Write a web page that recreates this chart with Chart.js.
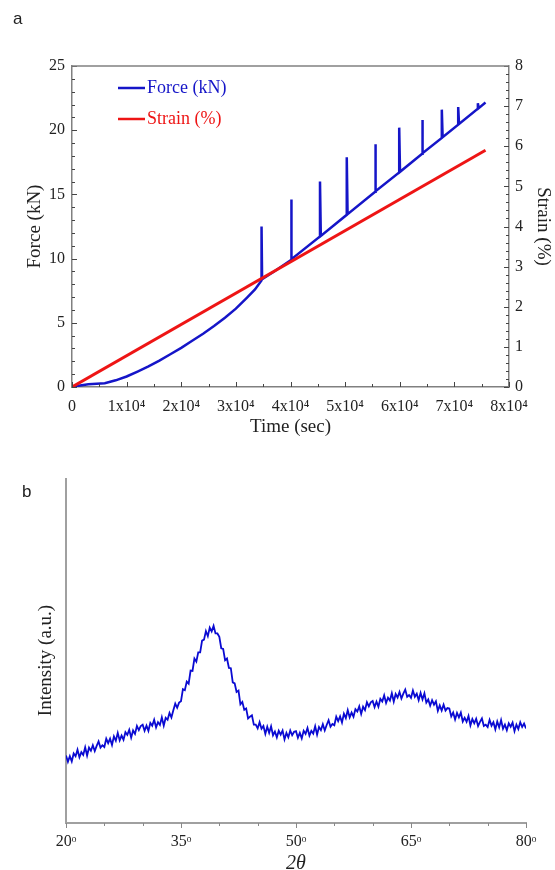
<!DOCTYPE html>
<html>
<head>
<meta charset="utf-8">
<script src="https://cdn.jsdelivr.net/npm/chart.js@4.4.1/dist/chart.umd.min.js"></script>
<style>
  body { margin: 0; background: #fff; }
  #wrap { position: relative; width: 555px; height: 870px; }
  canvas { position: absolute; left: 0; }
  .tag { position: absolute; font: 17px "Liberation Sans", Arial, sans-serif; color: #222; }
</style>
</head>
<body>
<div id="wrap">
  <canvas id="forceChart" width="555" height="450" style="top:0"></canvas>
  <canvas id="xrdChart" width="555" height="420" style="top:450px"></canvas>
  <div class="tag" style="left:13px; top:9px">a</div>
  <div class="tag" style="left:22px; top:482px">b</div>
</div>
<script>
// panel a: tensile test
var forceTime = [0, 1500, 3000, 4500, 6000, 8000, 10000, 12000, 14000, 16000, 18000, 20000,
  22000, 24000, 26000, 28000, 30000, 32000, 33500, 34700, 34700, 34800, 37000,
  40100, 40100, 40250, 45400, 45400, 45550, 50300, 50300, 50450, 55500, 55500, 55650,
  59900, 59900, 60050, 64100, 64100, 64250, 67700, 67700, 67850, 70700, 70700, 70850,
  74300, 74300, 74450, 75700];
var forceKN = [0, 0.12, 0.22, 0.26, 0.3, 0.52, 0.82, 1.2, 1.6, 2.05, 2.55, 3.05,
  3.6, 4.15, 4.75, 5.4, 6.1, 6.95, 7.6, 8.3, 12.5, 8.4, 9.0,
  9.9, 14.6, 9.95, 11.72, 16.0, 11.77, 13.41, 17.9, 13.46, 15.2, 18.9, 15.25,
  16.71, 20.2, 16.76, 18.16, 20.8, 18.21, 19.4, 21.6, 19.45, 20.43, 21.8, 20.48,
  21.67, 22.1, 21.72, 22.15];
var strainTime = [0, 75700];
var strainPct = [0, 5.9];

// panel b: XRD scan, 20 to 80 deg, step 0.25
var scanStart = 20, scanStep = 0.25;
var intensity = [
  19.6, 17.8, 19.4, 17.9, 20.2, 19.4, 21.3, 19.1, 20.6, 19.8, 22.0, 19.6, 21.9, 21.0, 22.6, 20.9, 22.4, 23.7, 21.9, 22.6,
  22.1, 24.5, 23.2, 24.5, 22.7, 25.2, 23.9, 26.2, 24.0, 25.4, 24.2, 26.4, 25.6, 27.1, 24.8, 26.9, 25.9, 28.2, 27.0, 28.2,
  28.6, 26.8, 28.3, 26.8, 29.1, 28.3, 30.0, 27.8, 29.3, 28.5, 30.7, 28.3, 30.6, 30.0, 32.0, 30.7, 32.8, 34.7, 33.5, 35.0,
  35.4, 38.9, 38.6, 41.1, 40.5, 44.3, 44.2, 47.8, 46.9, 49.6, 49.6, 53.0, 53.3, 55.8, 54.3, 56.8, 55.7, 57.3, 55.1, 55.1,
  54.1, 50.8, 50.6, 47.3, 47.8, 45.1, 45.0, 40.9, 40.6, 38.1, 38.5, 34.5, 35.2, 32.9, 33.3, 30.4, 30.9, 31.3, 28.6, 28.6,
  27.5, 29.3, 27.4, 28.2, 25.9, 28.0, 26.2, 28.1, 25.5, 26.6, 24.9, 26.8, 25.7, 26.9, 24.3, 26.2, 24.9, 26.9, 25.5, 26.5,
  26.7, 24.8, 26.2, 24.6, 26.8, 25.9, 27.6, 25.4, 26.8, 26.0, 28.1, 25.7, 27.9, 27.0, 28.7, 26.9, 28.5, 29.9, 28.0, 28.8,
  28.4, 30.9, 29.6, 31.0, 29.2, 31.8, 30.5, 32.8, 30.7, 32.1, 30.9, 33.1, 32.4, 33.9, 31.7, 33.8, 32.8, 35.1, 33.9, 35.1,
  35.5, 33.7, 35.3, 33.8, 36.1, 35.3, 37.1, 34.9, 36.4, 35.6, 37.7, 35.3, 37.5, 36.5, 38.1, 36.2, 37.6, 38.8, 36.7, 37.2,
  36.4, 38.5, 36.7, 37.6, 35.7, 37.8, 35.9, 37.7, 35.0, 35.9, 34.1, 35.7, 34.4, 35.4, 32.6, 34.2, 32.7, 34.4, 32.7, 33.4,
  33.3, 31.0, 32.1, 30.1, 32.0, 30.7, 32.1, 29.5, 30.6, 29.4, 31.1, 28.4, 30.2, 29.0, 30.3, 28.2, 29.4, 30.4, 28.2, 28.6,
  27.9, 30.0, 28.3, 29.3, 27.2, 29.5, 27.8, 29.9, 27.4, 28.6, 27.0, 29.0, 28.0, 29.2, 26.7, 28.6, 27.3, 29.3, 27.9, 28.9,
  27.5
];

var serif = '"Liberation Serif", "Times New Roman", serif';
var inkColor = '#222';

// tick marks (major with label, minor without), drawn by hand so they can point inward
var tickMarks = {
  id: 'tickMarks',
  afterDraw: function(chart, args, opts) {
    var ctx = chart.ctx;
    ctx.save();
    ctx.strokeStyle = opts.color || '#444';
    ctx.lineWidth = 1;
    (opts.axes || []).forEach(function(a) {
      var s = chart.scales[a.id];
      s.ticks.forEach(function(t) {
        var len = t.label ? a.major : a.minor;
        var p = Math.round(s.getPixelForValue(t.value)) + 0.5;
        ctx.beginPath();
        if (s.isHorizontal()) {
          var y0 = s.top;
          ctx.moveTo(p, y0);
          ctx.lineTo(p, a.inward ? y0 - len : y0 + len);
        } else if (s.position === 'left') {
          ctx.moveTo(s.right, p);
          ctx.lineTo(a.inward ? s.right + len : s.right - len, p);
        } else {
          ctx.moveTo(s.left, p);
          ctx.lineTo(a.inward ? s.left - len : s.left + len, p);
        }
        ctx.stroke();
      });
    });
    if (opts.topLine) {
      var ca = chart.chartArea;
      ctx.strokeStyle = opts.topLine;
      ctx.lineWidth = 1.5;
      ctx.beginPath();
      ctx.moveTo(ca.left, ca.top);
      ctx.lineTo(ca.right, ca.top);
      ctx.stroke();
    }
    ctx.restore();
  }
};

// legend inside the plot, text in the series colour
var insideLegend = {
  id: 'insideLegend',
  afterDraw: function(chart, args, opts) {
    if (!opts.display) return;
    var ctx = chart.ctx;
    ctx.save();
    ctx.font = '18px ' + serif;
    ctx.textBaseline = 'middle';
    chart.data.datasets.forEach(function(ds, i) {
      var y = opts.y + i * opts.gap;
      ctx.strokeStyle = ds.borderColor;
      ctx.lineWidth = 2.5;
      ctx.beginPath();
      ctx.moveTo(opts.x, y);
      ctx.lineTo(opts.x + 27, y);
      ctx.stroke();
      ctx.fillStyle = ds.borderColor;
      ctx.fillText(ds.label, opts.x + 29, y);
    });
    ctx.restore();
  }
};

function pairs(xs, ys) {
  return xs.map(function(x, i) { return { x: x, y: ys[i] }; });
}

new Chart(document.getElementById('forceChart').getContext('2d'), {
  type: 'scatter',
  data: {
    datasets: [{
      label: 'Force (kN)',
      data: pairs(forceTime, forceKN),
      showLine: true,
      borderColor: '#1515c8',
      borderWidth: 2.5,
      pointRadius: 0,
      yAxisID: 'y',
      order: 1
    }, {
      label: 'Strain (%)',
      data: pairs(strainTime, strainPct),
      showLine: true,
      borderColor: '#ee1515',
      borderWidth: 3,
      pointRadius: 0,
      yAxisID: 'y2',
      order: 0
    }]
  },
  options: {
    responsive: false,
    animation: false,
    layout: { padding: { top: 66, left: 0, right: 0, bottom: 0 } },
    scales: {
      x: {
        type: 'linear', position: 'bottom', min: 0, max: 80000,
        grid: { display: false, drawTicks: false },
        border: { display: true, color: '#808080', width: 1.5 },
        ticks: {
          stepSize: 5000, autoSkip: false, maxRotation: 0, padding: 10,
          color: inkColor, font: { family: serif, size: 16 },
          callback: function(v) {
            if (v % 10000 !== 0) return '';
            return v === 0 ? '0' : (v / 10000) + 'x10\u2074';
          }
        },
        title: { display: true, text: 'Time (sec)', color: inkColor, font: { family: serif, size: 19 }, padding: { top: 0, bottom: 12 } },
        afterFit: function(s) { s.height = 63; }
      },
      y: {
        position: 'left', min: 0, max: 25,
        grid: { display: false, drawTicks: false },
        border: { display: true, color: '#808080', width: 1.5 },
        ticks: {
          stepSize: 1, autoSkip: false, padding: 7,
          color: inkColor, font: { family: serif, size: 16 },
          callback: function(v) { return v % 5 === 0 ? String(v) : ''; }
        },
        title: { display: true, text: 'Force (kN)', color: inkColor, font: { family: serif, size: 19 }, padding: { top: 24, bottom: 0 } },
        afterFit: function(s) { s.width = 72; }
      },
      y2: {
        position: 'right', min: 0, max: 8,
        grid: { display: false, drawTicks: false },
        border: { display: true, color: '#808080', width: 1.5 },
        ticks: {
          stepSize: 0.2, autoSkip: false, padding: 6,
          color: inkColor, font: { family: serif, size: 16 },
          callback: function(v) { return Math.abs(v - Math.round(v)) < 1e-6 ? String(Math.round(v)) : ''; }
        },
        title: { display: true, text: 'Strain (%)', color: inkColor, font: { family: serif, size: 19 }, padding: { top: 1, bottom: 0 } },
        afterFit: function(s) { s.width = 46; }
      }
    },
    plugins: {
      legend: { display: false },
      tooltip: { enabled: false },
      insideLegend: { display: true, x: 118, y: 88, gap: 31 },
      tickMarks: {
        color: '#444',
        topLine: '#808080',
        axes: [
          { id: 'x', major: 5, minor: 3, inward: true },
          { id: 'y', major: 5, minor: 3, inward: true },
          { id: 'y2', major: 5, minor: 3, inward: true }
        ]
      }
    }
  },
  plugins: [tickMarks, insideLegend]
});

new Chart(document.getElementById('xrdChart').getContext('2d'), {
  type: 'scatter',
  data: {
    datasets: [{
      label: 'XRD',
      data: intensity.map(function(v, i) { return { x: scanStart + i * scanStep, y: v }; }),
      showLine: true,
      borderColor: '#0a0ad2',
      borderWidth: 1.8,
      pointRadius: 0
    }]
  },
  options: {
    responsive: false,
    animation: false,
    layout: { padding: { top: 29, left: 0, right: 29, bottom: 0 } },
    scales: {
      x: {
        type: 'linear', position: 'bottom', min: 20, max: 80,
        grid: { display: false, drawTicks: false },
        border: { display: true, color: '#a0a0a0', width: 2 },
        ticks: {
          stepSize: 5, autoSkip: false, maxRotation: 0, padding: 9,
          color: inkColor, font: { family: serif, size: 16 },
          callback: function(v) { return (v - 20) % 15 === 0 ? v + '\u1D52' : ''; }
        },
        title: { display: true, text: '2\u03B8', color: inkColor, font: { family: serif, size: 20, style: 'italic', lineHeight: 0.9 }, padding: { top: 0, bottom: -3 } },
        afterFit: function(s) { s.height = 47; }
      },
      y: {
        position: 'left', min: 0, max: 100,
        grid: { display: false, drawTicks: false },
        border: { display: true, color: '#a0a0a0', width: 2 },
        ticks: { display: false },
        title: { display: true, text: 'Intensity (a.u.)    ', color: inkColor, font: { family: serif, size: 19 }, padding: { top: 35, bottom: 0 } },
        afterFit: function(s) { s.width = 66; }
      }
    },
    plugins: {
      legend: { display: false },
      tooltip: { enabled: false },
      tickMarks: {
        color: '#888',
        axes: [{ id: 'x', major: 5, minor: 3, inward: false }]
      }
    }
  },
  plugins: [tickMarks]
});
</script>
</body>
</html>
